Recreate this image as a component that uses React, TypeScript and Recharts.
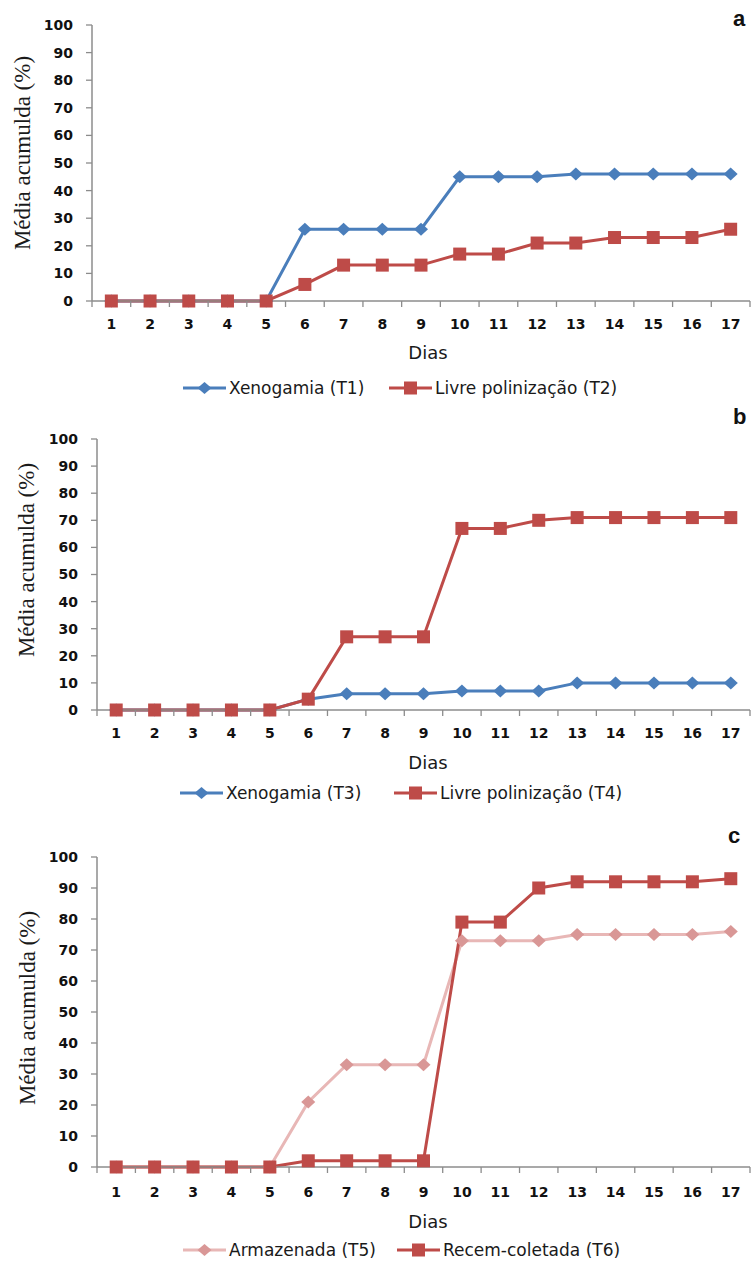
import React from 'react';
import { LineChart, Line, XAxis, YAxis, Legend } from 'recharts';

// ---------- data ----------
const days = [1, 2, 3, 4, 5, 6, 7, 8, 9, 10, 11, 12, 13, 14, 15, 16, 17];
const yTicks = [0, 10, 20, 30, 40, 50, 60, 70, 80, 90, 100];

const xenogamiaT1 = [0, 0, 0, 0, 0, 26, 26, 26, 26, 45, 45, 45, 46, 46, 46, 46, 46];
const livreT2 = [0, 0, 0, 0, 0, 6, 13, 13, 13, 17, 17, 21, 21, 23, 23, 23, 26];

const xenogamiaT3 = [0, 0, 0, 0, 0, 4, 6, 6, 6, 7, 7, 7, 10, 10, 10, 10, 10];
const livreT4 = [0, 0, 0, 0, 0, 4, 27, 27, 27, 67, 67, 70, 71, 71, 71, 71, 71];

const armazenadaT5 = [0, 0, 0, 0, 0, 21, 33, 33, 33, 73, 73, 73, 75, 75, 75, 75, 76];
const recemT6 = [0, 0, 0, 0, 0, 2, 2, 2, 2, 79, 79, 90, 92, 92, 92, 92, 93];

const panelLetters = ['a', 'b', 'c'];
const yLabel = 'Média acumulda (%)';
const xLabel = 'Dias';

// ---------- styles ----------
const AXIS = '#8c8c8c';
const BLUE = '#4a7ebb';
const RED = '#be4b48';
const PINK_LINE = '#e8b7b6';
const PINK_MARK = '#d99796';
const SANS = "'DejaVu Sans', Verdana, sans-serif";
const SERIF = "'Liberation Serif', 'Times New Roman', serif";

const xTickValues = days.map((d) => d - 0.5).concat([days[days.length - 1] + 0.5]).concat(days);

type Series = { key: string; name: string; values: number[]; stroke: string; markFill: string; shape: 'diamond' | 'square' };

const makeDot = (shape: string, fill: string) => (props: any) => {
  const { cx, cy, index } = props;
  if (cx == null || cy == null) return <g key={`d${index}`} />;
  if (shape === 'square') {
    const s = 13;
    return <rect key={`d${index}`} x={cx - s / 2} y={cy - s / 2} width={s} height={s} fill={fill} />;
  }
  const rx = 7, ry = 6.5;
  return (
    <polygon
      key={`d${index}`}
      points={`${cx},${cy - ry} ${cx + rx},${cy} ${cx},${cy + ry} ${cx - rx},${cy}`}
      fill={fill}
    />
  );
};

const XTick = (props: any) => {
  const { x, y, payload, tickBaseline } = props;
  const v = payload.value;
  if (v % 1 !== 0) {
    return <line x1={x} x2={x} y1={y} y2={y + 6} stroke={AXIS} strokeWidth={1.3} />;
  }
  return (
    <text x={x} y={y + tickBaseline} textAnchor="middle" style={{ fontFamily: SANS, fontWeight: 'bold', fontSize: 14 }} fill="#111">
      {v}
    </text>
  );
};

const LegendRow = ({ payload, series, lefts }: any) => {
  return (
    <div style={{ position: 'relative', height: 22, width: 753 }}>
      {series.map((s: Series, i: number) => {
        const entry = (payload || []).find((p: any) => p.value === s.name);
        const label = entry ? entry.value : s.name;
        return (
          <div key={s.key} style={{ position: 'absolute', left: lefts[i], top: 0, height: 22, display: 'flex', alignItems: 'center', whiteSpace: 'nowrap' }}>
            <svg width={43} height={22} style={{ display: 'block' }}>
              <line x1={0} x2={43} y1={11} y2={11} stroke={s.stroke} strokeWidth={3} />
              {s.shape === 'square' ? (
                <rect x={21.5 - 6.5} y={11 - 6.5} width={13} height={13} fill={s.markFill} />
              ) : (
                <polygon points={`21.5,5 28.5,11 21.5,17 14.5,11`} fill={s.markFill} />
              )}
            </svg>
            <span style={{ fontFamily: SANS, fontSize: 17, color: '#1a1a1a', marginLeft: 3, lineHeight: '22px' }}>{label}</span>
          </div>
        );
      })}
    </div>
  );
};

type PanelProps = {
  top: number;
  height: number;
  plotTop: number;
  plotLeft: number;
  marginBottom: number;
  series: Series[];
  legendTop: number;
  legendLefts: number[];
  yLabelX: number;
  yLabelY: number;
  diasBaseline: number;
  tickBaseline: number;
  letter: string;
  letterLeft: number;
  letterTop: number;
};

const Panel = (p: PanelProps) => {
  const data = days.map((d, i) => {
    const row: any = { day: d };
    p.series.forEach((s) => (row[s.key] = s.values[i]));
    return row;
  });
  return (
    <div style={{ position: 'absolute', left: 0, top: p.top, width: 753, height: p.height }}>
      <LineChart
        width={753}
        height={p.height}
        data={data}
        margin={{ top: p.plotTop, right: 3, left: 0, bottom: p.marginBottom }}
      >
        <XAxis
          dataKey="day"
          type="number"
          domain={[0.5, 17.5]}
          ticks={xTickValues}
          interval={0}
          tickLine={false}
          tickSize={0}
          tickMargin={0}
          height={50}
          axisLine={{ stroke: AXIS, strokeWidth: 1.5 }}
          tick={(tp: any) => <XTick {...tp} tickBaseline={p.tickBaseline} />}
          label={{
            content: (lp: any) => {
              const vb = lp.viewBox || {};
              return (
                <text x={428} y={(vb.y || 0) + p.diasBaseline} textAnchor="middle" style={{ fontFamily: SANS, fontSize: 18 }} fill="#1a1a1a">
                  {xLabel}
                </text>
              );
            },
          }}
        />
        <YAxis
          type="number"
          domain={[0, 100]}
          ticks={yTicks}
          interval={0}
          width={p.plotLeft}
          tickSize={6}
          tickMargin={13}
          axisLine={{ stroke: AXIS, strokeWidth: 1.5 }}
          tickLine={{ stroke: AXIS, strokeWidth: 1.3 }}
          tick={{ fontFamily: SANS, fontWeight: 'bold', fontSize: 14, fill: '#111' }}
          label={{
            content: () => (
              <text
                x={p.yLabelX}
                y={p.yLabelY}
                transform={`rotate(-90 ${p.yLabelX} ${p.yLabelY})`}
                textAnchor="middle"
                dominantBaseline="central"
                style={{ fontFamily: SERIF, fontSize: 23 }}
                fill="#1a1a1a"
              >
                {yLabel}
              </text>
            ),
          }}
        />
        {p.series.map((s) => (
          <Line
            key={s.key}
            type="linear"
            dataKey={s.key}
            name={s.name}
            stroke={s.stroke}
            strokeWidth={3}
            dot={makeDot(s.shape, s.markFill)}
            activeDot={false}
            isAnimationActive={false}
          />
        ))}
        <Legend
          layout="horizontal"
          verticalAlign="middle"
          align="center"
          wrapperStyle={{ position: 'absolute', left: 0, top: p.legendTop, width: 753, height: 22 }}
          content={(lp: any) => <LegendRow payload={lp.payload} series={p.series} lefts={p.legendLefts} />}
        />
      </LineChart>
      <div
        style={{
          position: 'absolute',
          left: p.letterLeft,
          top: p.letterTop,
          fontFamily: "'Liberation Sans', Arial, sans-serif",
          fontWeight: 'bold',
          fontSize: 22,
          lineHeight: '22px',
          color: '#111',
        }}
      >
        {p.letter}
      </div>
    </div>
  );
};

const seriesA: Series[] = [
  { key: 't1', name: 'Xenogamia (T1)', values: xenogamiaT1, stroke: BLUE, markFill: BLUE, shape: 'diamond' },
  { key: 't2', name: 'Livre polinização (T2)', values: livreT2, stroke: RED, markFill: RED, shape: 'square' },
];
const seriesB: Series[] = [
  { key: 't3', name: 'Xenogamia (T3)', values: xenogamiaT3, stroke: BLUE, markFill: BLUE, shape: 'diamond' },
  { key: 't4', name: 'Livre polinização (T4)', values: livreT4, stroke: RED, markFill: RED, shape: 'square' },
];
const seriesC: Series[] = [
  { key: 't5', name: 'Armazenada (T5)', values: armazenadaT5, stroke: PINK_LINE, markFill: PINK_MARK, shape: 'diamond' },
  { key: 't6', name: 'Recem-coletada (T6)', values: recemT6, stroke: RED, markFill: RED, shape: 'square' },
];

export default function App() {
  return (
    <div style={{ position: 'absolute', left: 0, top: 0, width: 753, height: 1261, background: '#fff', overflow: 'hidden' }}>
      <Panel
        top={0}
        height={400}
        plotTop={25}
        plotLeft={92}
        marginBottom={49}
        series={seriesA}
        legendTop={377}
        legendLefts={[183, 389]}
        yLabelX={22}
        yLabelY={153}
        diasBaseline={58}
        tickBaseline={28}
        letter={panelLetters[0]}
        letterLeft={733}
        letterTop={8}
      />
      <Panel
        top={400}
        height={420}
        plotTop={39}
        plotLeft={97}
        marginBottom={60}
        series={seriesB}
        legendTop={382}
        legendLefts={[180, 394]}
        yLabelX={26}
        yLabelY={160}
        diasBaseline={59}
        tickBaseline={28}
        letter={panelLetters[1]}
        letterLeft={733}
        letterTop={6}
      />
      <Panel
        top={820}
        height={441}
        plotTop={37}
        plotLeft={97}
        marginBottom={44}
        series={seriesC}
        legendTop={419}
        legendLefts={[183, 397]}
        yLabelX={27}
        yLabelY={188}
        diasBaseline={61}
        tickBaseline={30}
        letter={panelLetters[2]}
        letterLeft={728}
        letterTop={5}
      />
    </div>
  );
}
